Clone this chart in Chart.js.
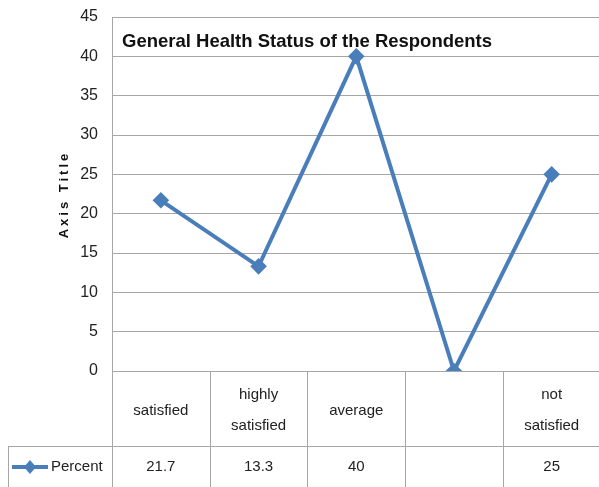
<!DOCTYPE html>
<html>
<head>
<meta charset="utf-8">
<script src="https://cdn.jsdelivr.net/npm/chart.js@4.4.1/dist/chart.umd.min.js"></script>
<style>
  html, body { margin: 0; padding: 0; background: #fff; overflow: hidden; }
  #wrap { width: 610px; height: 487px; }
</style>
</head>
<body>
<div id="wrap"><canvas id="health-chart" width="610" height="487"></canvas></div>
<script>
// chart data
const categories = [["satisfied"], ["highly", "satisfied"], ["average"], [""], ["not", "satisfied"]];
const percentValues = [21.7, 13.3, 40, 0, 25];
const tableValues = ["21.7", "13.3", "40", "", "25"];
const seriesName = "Percent";
const chartTitle = "General Health Status of the Respondents";
const yAxisTitle = "Axis Title";

const FONT = "'Liberation Sans', Arial, sans-serif";
const LINE_COLOR = "#4a7ebb";
const GRID_COLOR = "#a6a6a6";

// draws the title, axis title and the data table under the plot
const tablePlugin = {
  id: "dataTable",
  afterDraw(chart) {
    const ctx = chart.ctx;
    const area = chart.chartArea;
    const x = chart.scales.x;
    const rowTop = area.bottom;
    const rowMid = 446;
    const rowEnd = chart.height;
    const half = (x.getPixelForValue(1) - x.getPixelForValue(0)) / 2;

    ctx.save();
    ctx.strokeStyle = GRID_COLOR;
    ctx.lineWidth = 1;
    ctx.beginPath();
    // left border of the plot through the table
    ctx.moveTo(area.left + 0.5, area.top);
    ctx.lineTo(area.left + 0.5, rowEnd);
    // category dividers
    categories.forEach((c, i) => {
      const px = Math.round(x.getPixelForValue(i) + half) + 0.5;
      ctx.moveTo(px, rowTop);
      ctx.lineTo(px, rowEnd);
    });
    // row divider + legend cell
    ctx.moveTo(8, rowMid + 0.5);
    ctx.lineTo(chart.width, rowMid + 0.5);
    ctx.moveTo(8.5, rowMid);
    ctx.lineTo(8.5, rowEnd);
    ctx.stroke();

    ctx.fillStyle = "#222";
    ctx.textAlign = "center";
    ctx.textBaseline = "middle";
    ctx.font = "15px " + FONT;
    categories.forEach((lines, i) => {
      const px = x.getPixelForValue(i);
      const cy = (rowTop + rowMid) / 2 + 2;
      lines.forEach((t, j) => {
        ctx.fillText(t, px, cy + (j - (lines.length - 1) / 2) * 31);
      });
      ctx.fillText(tableValues[i], px, 467);
    });

    // legend key
    ctx.strokeStyle = LINE_COLOR;
    ctx.lineWidth = 4;
    ctx.beginPath();
    ctx.moveTo(12, 467);
    ctx.lineTo(48, 467);
    ctx.stroke();
    ctx.fillStyle = LINE_COLOR;
    ctx.beginPath();
    ctx.moveTo(30, 460);
    ctx.lineTo(36, 467);
    ctx.lineTo(30, 474);
    ctx.lineTo(24, 467);
    ctx.closePath();
    ctx.fill();
    ctx.fillStyle = "#222";
    ctx.textAlign = "left";
    ctx.fillText(seriesName, 51, 467);

    // chart title inside the plot
    ctx.font = "bold 18.5px " + FONT;
    ctx.fillStyle = "#111";
    ctx.textBaseline = "middle";
    ctx.fillText(chartTitle, 122, 42);

    // y axis title
    ctx.translate(64, 196);
    ctx.rotate(-Math.PI / 2);
    ctx.font = "bold 13px " + FONT;
    ctx.letterSpacing = "3px";
    ctx.textAlign = "center";
    ctx.fillText(yAxisTitle, 1.5, 0);
    ctx.restore();
  }
};

new Chart(document.getElementById("health-chart"), {
  type: "line",
  data: {
    labels: categories,
    datasets: [
      {
        label: seriesName,
        data: percentValues,
        borderColor: LINE_COLOR,
        backgroundColor: LINE_COLOR,
        borderWidth: 4,
        pointStyle: "rectRot",
        pointRadius: 5.5,
        pointHoverRadius: 5.5,
        tension: 0,
      },
    ],
  },
  options: {
    responsive: false,
    animation: false,
    layout: {
      padding: { top: 17, bottom: 116, left: 0, right: 3 },
    },
    scales: {
      x: {
        type: "category",
        offset: true,
        display: false,
      },
      y: {
        min: 0,
        max: 45,
        afterFit: (scale) => {
          scale.width = 112;
          scale.paddingTop = 0;
          scale.paddingBottom = 0;
        },
        ticks: {
          stepSize: 5,
          padding: 14,
          color: "#222",
          font: { family: FONT, size: 16 },
        },
        grid: {
          color: GRID_COLOR,
          drawTicks: false,
        },
        border: { display: false },
      },
    },
    plugins: {
      legend: { display: false },
      tooltip: { enabled: false },
    },
  },
  plugins: [tablePlugin],
});
</script>
</body>
</html>
